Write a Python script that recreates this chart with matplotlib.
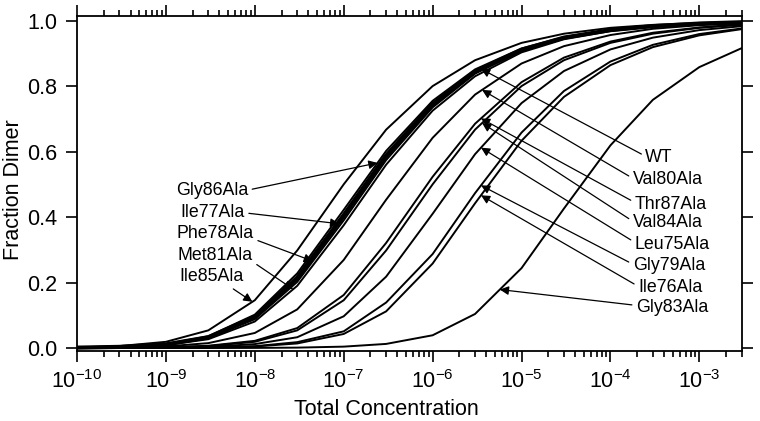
import numpy as np
import matplotlib.pyplot as plt
from matplotlib.ticker import LogLocator, NullFormatter

plt.rcParams['font.family'] = ['Liberation Sans', 'DejaVu Sans']
plt.rcParams['mathtext.fontset'] = 'custom'
plt.rcParams['mathtext.rm'] = 'Liberation Sans'
plt.rcParams['mathtext.default'] = 'regular'

# total concentration (M), two points per decade
conc = [1e-10, 3e-10, 1e-9, 3e-9, 1e-8, 3e-8, 1e-7, 3e-7,
        1e-6, 3e-6, 1e-5, 3e-5, 1e-4, 3e-4, 1e-3, 3e-3]

# fraction dimer
ile85 = [0.002, 0.006, 0.019, 0.054, 0.146, 0.298, 0.500, 0.667,
         0.800, 0.879, 0.932, 0.960, 0.978, 0.987, 0.993, 0.996]
gly86 = [0.0013, 0.004, 0.012, 0.036, 0.102, 0.228, 0.422, 0.602,
         0.755, 0.851, 0.915, 0.950, 0.972, 0.984, 0.991, 0.995]
wt = [0.0012, 0.0035, 0.011, 0.033, 0.095, 0.215, 0.406, 0.588,
      0.745, 0.844, 0.911, 0.948, 0.971, 0.983, 0.991, 0.995]
ile77 = [0.0011, 0.0033, 0.011, 0.031, 0.091, 0.208, 0.398, 0.581,
         0.740, 0.841, 0.909, 0.947, 0.970, 0.983, 0.990, 0.995]
phe78 = [0.001, 0.0032, 0.010, 0.030, 0.088, 0.202, 0.390, 0.574,
         0.735, 0.838, 0.907, 0.945, 0.970, 0.982, 0.990, 0.994]
met81 = [0.001, 0.0029, 0.009, 0.027, 0.081, 0.190, 0.375, 0.560,
         0.725, 0.830, 0.903, 0.943, 0.968, 0.982, 0.990, 0.994]
val80 = [0.0005, 0.0015, 0.005, 0.015, 0.046, 0.118, 0.269, 0.453,
         0.642, 0.774, 0.869, 0.922, 0.956, 0.975, 0.986, 0.992]
thr87 = [0.0002, 0.0007, 0.0023, 0.007, 0.022, 0.061, 0.162, 0.321,
         0.523, 0.685, 0.812, 0.887, 0.936, 0.963, 0.979, 0.989]
val84 = [0.0002, 0.0006, 0.002, 0.006, 0.019, 0.054, 0.146, 0.298,
         0.500, 0.667, 0.800, 0.879, 0.932, 0.960, 0.978, 0.987]
leu75 = [0.0001, 0.0004, 0.0012, 0.0035, 0.012, 0.033, 0.097, 0.218,
         0.410, 0.592, 0.748, 0.846, 0.912, 0.948, 0.971, 0.983]
gly79 = [0.0001, 0.0002, 0.0006, 0.0017, 0.0056, 0.018, 0.051, 0.139,
         0.287, 0.473, 0.658, 0.785, 0.875, 0.926, 0.959, 0.976]
ile76 = [0.0, 0.0001, 0.0005, 0.0014, 0.0047, 0.014, 0.043, 0.112,
         0.258, 0.442, 0.633, 0.767, 0.864, 0.919, 0.955, 0.974]
gly83 = [0.0, 0.00002, 0.00005, 0.0001, 0.0004, 0.0013, 0.0043, 0.0126,
         0.039, 0.104, 0.244, 0.426, 0.619, 0.758, 0.858, 0.916]

curves = [ile85, gly86, wt, ile77, phe78, met81, val80,
          thr87, val84, leu75, gly79, ile76, gly83]
widths = [1.4, 1.4, 3.0, 1.4, 1.4, 1.4, 1.4,
          1.4, 1.4, 1.4, 1.4, 1.4, 1.4]

# labels: name, curve, concentration where the arrow hits, text pos (axes frac), arrow start
left_labels = [
    ('Gly86Ala', gly86, 2.4e-7, (0.203, 0.480), (1, 0.5)),
    ('Ile77Ala', ile77, 8.9e-8, (0.204, 0.412), (1, 0.5)),
    ('Phe78Ala', phe78, 4.5e-8, (0.208, 0.349), (1, 0.2)),
    ('Met81Ala', met81, 2.7e-8, (0.208, 0.286), (1, 0.1)),
    ('Ile85Ala', ile85, 9.4e-9, (0.203, 0.221), (0.75, 0)),
]
right_labels = [
    ('WT', wt, 3.5e-6, (0.855, 0.576)),
    ('Val80Ala', val80, 3.6e-6, (0.836, 0.510)),
    ('Thr87Ala', thr87, 3.5e-6, (0.839, 0.438)),
    ('Val84Ala', val84, 3.6e-6, (0.836, 0.382)),
    ('Leu75Ala', leu75, 3.5e-6, (0.839, 0.319)),
    ('Gly79Ala', gly79, 3.5e-6, (0.836, 0.254)),
    ('Ile76Ala', ile76, 3.5e-6, (0.844, 0.188)),
    ('Gly83Ala', gly83, 5.7e-6, (0.841, 0.131)),
]

fig = plt.figure(figsize=(7.6, 4.21), dpi=100)
ax = fig.add_axes([0.1013, 0.1663, 0.8747, 0.7964])

for c, w in zip(curves, widths):
    ax.plot(conc, c, color='k', lw=w, solid_joinstyle='miter')

ax.set_xscale('log')
ax.set_xlim(1e-10, 3e-3)
ax.set_ylim(-0.009, 1.015)
ax.set_yticks([0.0, 0.2, 0.4, 0.6, 0.8, 1.0])
ax.set_yticklabels(['0.0', '0.2', '0.4', '0.6', '0.8', '1.0'])
ax.set_xticks([10.0**k for k in range(-10, -2)])
ax.set_xticklabels(['$10^{%d}$' % k for k in range(-10, -2)])
ax.xaxis.set_minor_locator(LogLocator(base=10, subs=np.arange(2, 10), numticks=20))
ax.xaxis.set_minor_formatter(NullFormatter())

for s in ax.spines.values():
    s.set_linewidth(1.3)
ax.tick_params(which='both', direction='out', top=True, right=True,
               labelsize=15.5, width=1.2)
ax.tick_params(which='major', length=8)
ax.tick_params(which='minor', length=4.5)
ax.tick_params(axis='y', labelright=False, pad=6)
ax.tick_params(axis='x', pad=6)

ax.set_xlabel('Total Concentration', fontsize=15.5)
ax.xaxis.set_label_coords(0.465, -0.143)
ax.set_ylabel('Fraction Dimer', fontsize=15.5)
ax.yaxis.set_label_coords(-0.08, 0.48)

lx = np.log10(conc)
for name, c, xt, pos, rp in left_labels:
    yt = np.interp(np.log10(xt), lx, c)
    ax.annotate(name, xy=(xt, yt), xytext=pos, textcoords='axes fraction',
                ha='center', va='center', fontsize=12.8,
                arrowprops=dict(arrowstyle='-|>', color='k', lw=0.9,
                                mutation_scale=13, shrinkA=1, shrinkB=0,
                                relpos=rp))
for name, c, xt, pos in right_labels:
    yt = np.interp(np.log10(xt), lx, c)
    ax.annotate(name, xy=(xt, yt), xytext=pos, textcoords='axes fraction',
                ha='left', va='center', fontsize=12.8,
                arrowprops=dict(arrowstyle='-|>', color='k', lw=0.9,
                                mutation_scale=13, shrinkA=1, shrinkB=0,
                                relpos=(0, 0.6)))

fig.savefig('out.png', dpi=100)
